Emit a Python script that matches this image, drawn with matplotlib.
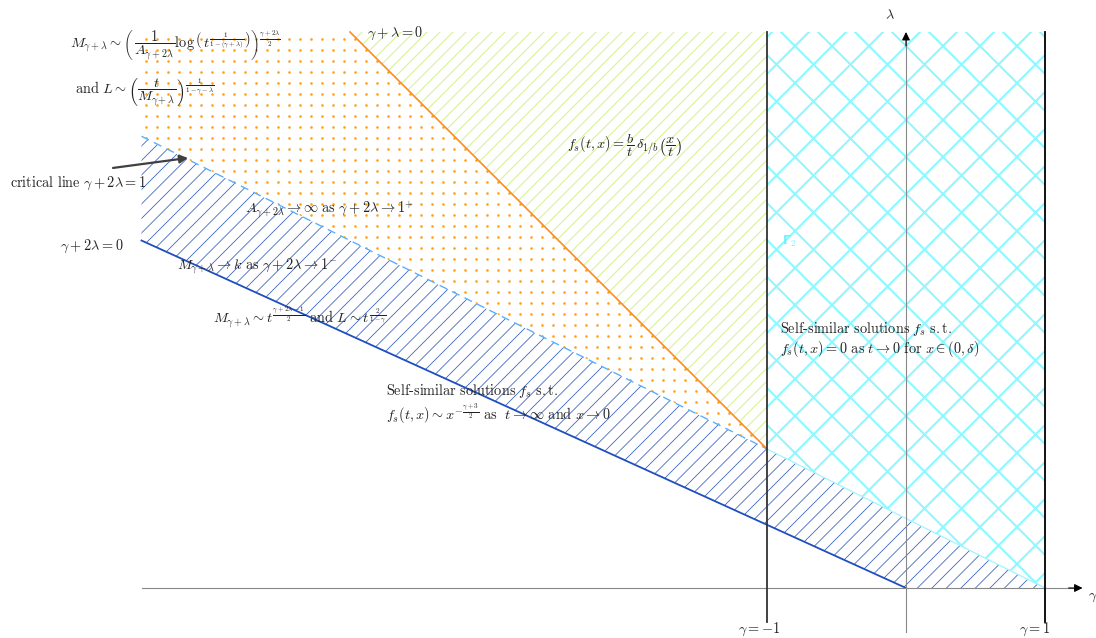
import numpy as np
import matplotlib
matplotlib.use("Agg")
import matplotlib.pyplot as plt
from matplotlib.patches import Polygon
from matplotlib.collections import LineCollection

plt.rcParams["mathtext.fontset"] = "cm"

# ---- region boundaries in the (gamma, lambda) plane ----
gamma_min, gamma_max = -5.5, 1.0
lam_top = 4.0

# gamma + 2 lambda = 0 (solid blue)
zero_g = [-5.5, 0.0]
zero_l = [2.5, 0.0]
# critical line gamma + 2 lambda = 1 (dashed, then thin cyan past gamma=-1)
crit_g = [-5.5, -1.0, 1.0]
crit_l = [3.25, 1.0, 0.0]
# gamma + lambda = 0 (orange)
diag_g = [-4.0, -1.0]
diag_l = [4.0, 1.0]
# vertical lines gamma = -1 and gamma = 1
vert_g = [-1.0, 1.0]
vert_bottom = -0.245

S = 139.0  # pixels per unit

fig = plt.figure(figsize=(10.96, 6.38), dpi=100)
ax = fig.add_axes([0, 0, 1, 1])
ax.set_xlim(-906 / S, 190 / S)
ax.set_ylim(-50 / S, 588 / S)
ax.axis("off")


def hatch(poly, spacing_px, color, lw, slopes, phase=0.0):
    patch = Polygon(poly, closed=True, fill=False, edgecolor="none")
    ax.add_patch(patch)
    d = spacing_px / S
    for k in slopes:
        offs = np.arange(-15, 15, d) + phase
        segs = [[(-8, -8 * k + c), (3, 3 * k + c)] for c in offs]
        lc = LineCollection(segs, colors=color, linewidths=lw, zorder=1)
        lc.set_clip_path(patch)
        ax.add_collection(lc)


# regions
dots_poly = [(gamma_min, lam_top), (diag_g[0], diag_l[0]), (diag_g[1], diag_l[1]),
             (crit_g[0], crit_l[0])]
green_poly = [(diag_g[0], diag_l[0]), (vert_g[0], lam_top), (diag_g[1], diag_l[1])]
cyan_poly = [(vert_g[0], lam_top), (vert_g[1], lam_top), (crit_g[2], crit_l[2]),
             (crit_g[1], crit_l[1])]
blue_poly = [(crit_g[0], crit_l[0]), (crit_g[1], crit_l[1]), (crit_g[2], crit_l[2]),
             (zero_g[1], zero_l[1]), (zero_g[0], zero_l[0])]

hatch(green_poly, 13, "#d6f39a", 0.8, [1])
hatch(cyan_poly, 37, "#8ff8ff", 1.5, [1, -1])
hatch(blue_poly, 14.5, "#2f5cc0", 0.55, [1])

# orange dot texture
dp = Polygon(dots_poly, closed=True, fill=False, edgecolor="none")
ax.add_patch(dp)
gx = np.arange(-4.043 - 20 * 11 / S, -0.9, 11 / S)
gy = np.arange(3.947, 0.9, -11 / S)
GX, GY = np.meshgrid(gx, gy)
sc = ax.scatter(GX.ravel(), GY.ravel(), s=3.5, color="#ff9f14", linewidths=0, zorder=2)
sc.set_clip_path(dp)

# boundary lines
ax.plot(zero_g, zero_l, color="#1f4fbf", lw=1.3, zorder=3)
ax.plot(crit_g[:2], crit_l[:2], color="#5ab0ff", lw=1.0, dashes=(6, 4), zorder=3)
ax.plot(crit_g[1:], crit_l[1:], color="#9ff5ff", lw=0.9, zorder=3)
ax.plot(diag_g, diag_l, color="#ff8c1a", lw=1.2, zorder=3)

# axes with arrow heads
ax.plot([gamma_min, 1.22], [0, 0], color="#888888", lw=0.8, zorder=4)
ax.plot([0, 0], [-0.32, 3.95], color="#888888", lw=0.8, zorder=4)
ax.annotate("", xy=(1.27, 0), xytext=(1.17, 0),
            arrowprops=dict(arrowstyle="-|>", color="black", lw=0.8,
                            mutation_scale=12, shrinkA=0, shrinkB=0), zorder=5)
ax.annotate("", xy=(0, 4.0), xytext=(0, 3.9),
            arrowprops=dict(arrowstyle="-|>", color="black", lw=0.8,
                            mutation_scale=12, shrinkA=0, shrinkB=0), zorder=5)
ax.plot([vert_g[0]] * 2, [vert_bottom, lam_top], color="#333333", lw=1.3, zorder=4)
ax.plot([vert_g[1]] * 2, [vert_bottom, lam_top], color="black", lw=1.3, zorder=4)

fs = 10.3
txt = dict(fontsize=fs, color="#222222", va="center", zorder=6)

ax.text(-3.878, 3.99, r"$\gamma+\lambda=0$", ha="left", **txt)
ax.text(-0.115, 4.12, r"$\lambda$", ha="center", **txt)
ax.text(1.31, -0.065, r"$\gamma$", ha="left", **txt)
ax.text(-1.058, -0.30, r"$\gamma=-1$", ha="center", **txt)
ax.text(0.928, -0.295, r"$\gamma=1$", ha="center", **txt)
ax.text(-5.626, 2.46, r"$\gamma+2\lambda=0$", ha="right", **txt)
ax.text(-6.446, 2.914, r"$\mathrm{critical\ line}\ \gamma+2\lambda=1$", ha="left", **txt)
ax.annotate("", xy=(-5.165, 3.094), xytext=(-5.705, 3.022),
            arrowprops=dict(arrowstyle="-|>", color="#404040", lw=1.6,
                            mutation_scale=12, shrinkA=0, shrinkB=0), zorder=6)

ax.text(-6.014, 3.906,
        r"$M_{\gamma+\lambda}\sim\left(\,\dfrac{1}{A_{\gamma+2\lambda}}\log\left(\,t^{\frac{1}{1-(\gamma+\lambda)}}\right)\right)^{\frac{\gamma+2\lambda}{2}}$",
        ha="left", **txt)
ax.text(-5.978, 3.568,
        r"$\mathrm{and}\ L\sim\left(\dfrac{t}{M_{\gamma+\lambda}}\right)^{\frac{1}{1-\gamma-\lambda}}$",
        ha="left", **txt)
ax.text(-4.755, 2.719, r"$A_{\gamma+2\lambda}\to\infty\ \mathrm{as}\ \gamma+2\lambda\to 1^{+}$",
        ha="left", **txt)
ax.text(-5.245, 2.317, r"$M_{\gamma+\lambda}\to k\ \mathrm{as}\ \gamma+2\lambda\to 1^{-}$",
        ha="left", **txt)
ax.text(-4.986, 1.95,
        r"$M_{\gamma+\lambda}\sim t^{\frac{\gamma+2\lambda-1}{2}}\ \mathrm{and}\ L\sim t^{\frac{2}{1-\gamma}}$",
        ha="left", **txt)
ax.text(-3.741, 1.417, r"$\mathrm{Self\text{-}similar\ solutions}\ f_s\ \mathrm{s.t.}$",
        ha="left", **txt)
ax.text(-3.741, 1.252,
        r"$f_s(t,x)\sim x^{-\frac{\gamma+3}{2}}\ \mathrm{as}\ \ t\to\infty\ \mathrm{and}\ x\to 0$",
        ha="left", **txt)
ax.text(-2.439, 3.18, r"$f_s(t,x)=\dfrac{b}{t}\,\delta_{1/b}\left(\dfrac{x}{t}\right)$",
        ha="left", **txt)
ax.text(-0.906, 1.863, r"$\mathrm{Self\text{-}similar\ solutions}\ f_s\ \mathrm{s.t.}$",
        ha="left", **txt)
ax.text(-0.906, 1.719, r"$f_s(t,x)=0\ \mathrm{as}\ t\to 0\ \mathrm{for}\ x\in(0,\delta)$",
        ha="left", **txt)
ax.text(-0.842, 2.496, "Γ$_2$", ha="center", va="center", fontsize=9,
        color="#70f0ff", fontweight="bold", family="DejaVu Sans", zorder=6)

fig.savefig("out.png", dpi=100)
